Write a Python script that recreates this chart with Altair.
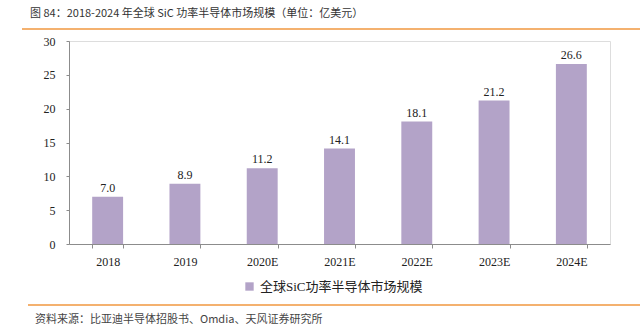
import altair as alt
import pandas as pd

years = ["2018", "2019", "2020E", "2021E", "2022E", "2023E", "2024E"]
values = [7.0, 8.9, 11.2, 14.1, 18.1, 21.2, 26.6]
series_name = "全球SiC功率半导体市场规模"
title_text = "图 84：2018-2024 年全球 SiC 功率半导体市场规模（单位：亿美元）"
source_text = "资料来源：比亚迪半导体招股书、Omdia、天风证券研究所"
y_ticks = [0, 5, 10, 15, 20, 25, 30]

df = pd.DataFrame({"year": years, "value": values, "series": [series_name] * len(years)})
df["label"] = [f"{v:.1f}" for v in values]

SERIF = "Liberation Serif, Noto Sans CJK SC"
SANS = "Noto Sans CJK SC"
BAR = "#b3a3c8"
ORANGE = "#f0973f"

base = alt.Chart(df)

x_axis = alt.Axis(labelAngle=0, labelFont=SERIF, labelFontSize=12, labelColor="#222",
                  domainColor="#8c8c8c", tickColor="#8c8c8c", tickSize=4,
                  tickBand="extent", labelPadding=8)
y_axis = alt.Axis(values=y_ticks, tickCount=7, grid=False, labelFont=SERIF, labelOverlap=False,
                  labelFontSize=12, labelColor="#222", domainColor="#8c8c8c",
                  tickColor="#8c8c8c", tickSize=3, labelPadding=11)
x_scale = alt.Scale(paddingInner=0.6, paddingOuter=0.3)
y_scale = alt.Scale(domain=[0, 30], nice=False)

x = alt.X("year:N", sort=years, title=None, scale=x_scale, axis=x_axis)
y = alt.Y("value:Q", title=None, scale=y_scale, axis=y_axis)

bars = base.mark_bar(color=BAR).encode(
    x=x,
    y=y,
    color=alt.Color("series:N", scale=alt.Scale(range=[BAR]),
                    legend=alt.Legend(title=None, orient="none", legendX=174, legendY=239,
                                      labelFont=SERIF, labelFontSize=13, labelColor="#222",
                                      labelLimit=400,
                                      symbolType="square", symbolSize=70, symbolStrokeWidth=0,
                                      labelOffset=4)),
)

labels = base.mark_text(dy=-9, font=SERIF, fontSize=12, color="#222").encode(
    x=x, y=y, text="label:N")

one = alt.Chart(pd.DataFrame({"k": [0]}))

title = one.mark_text(align="left", baseline="middle", font=SANS, fontSize=11,
                      color="#333").encode(x=alt.value(-39), y=alt.value(-27),
                                           text=alt.value(title_text))
source = one.mark_text(align="left", baseline="middle", font=SANS, fontSize=11,
                       color="#444").encode(x=alt.value(-34), y=alt.value(279),
                                            text=alt.value(source_text))
line_top = one.mark_rule(color=ORANGE, strokeWidth=1.5).encode(
    x=alt.value(-47), x2=alt.value(571), y=alt.value(-12))
line_bot = one.mark_rule(color=ORANGE, strokeWidth=1.5).encode(
    x=alt.value(-41), x2=alt.value(571), y=alt.value(264))

chart = alt.layer(bars, labels, title, source, line_top, line_bot).properties(
    width=541, height=203,
    autosize=alt.AutoSizeParams(type="none"),
    padding={"left": 69, "top": 41, "right": 30, "bottom": 90},
).configure_view(stroke=None).configure(background="white")

chart.save("out.html", embed_options={"renderer": "svg", "actions": False})
